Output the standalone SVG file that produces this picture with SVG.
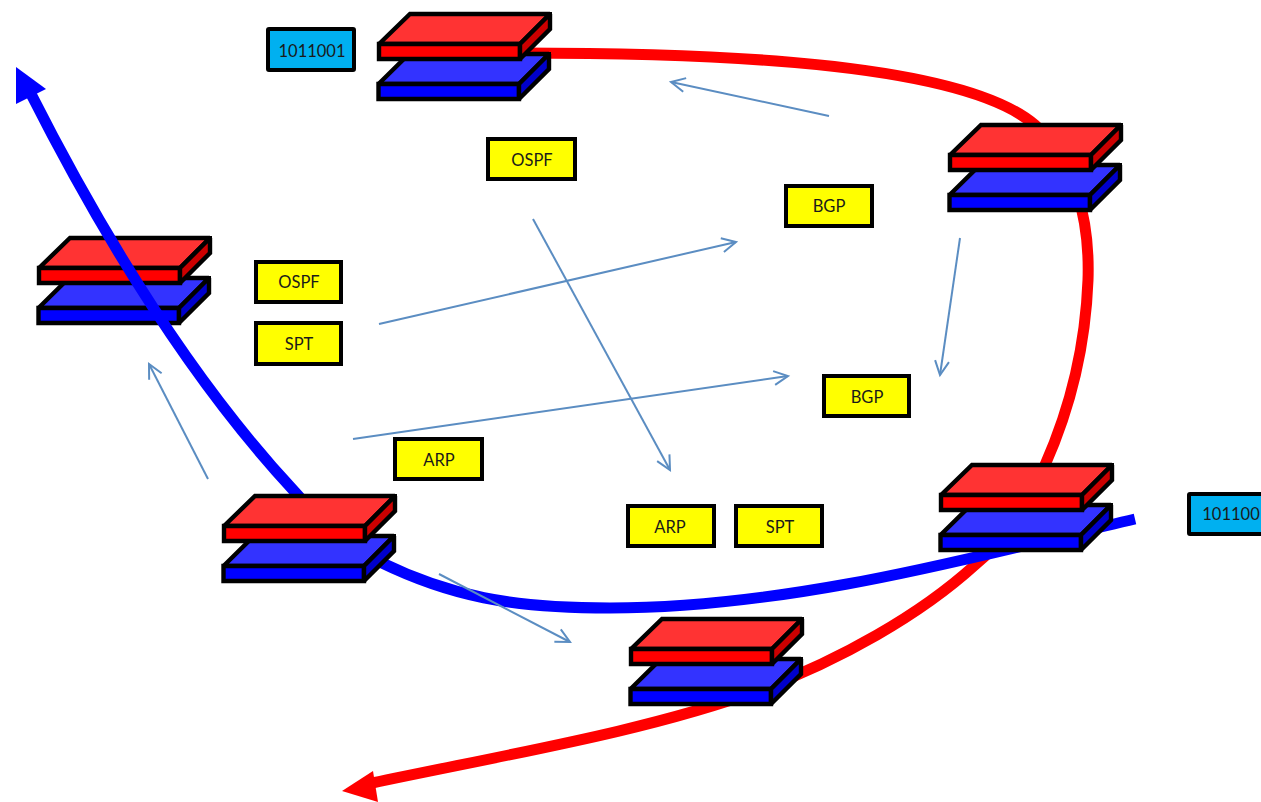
<svg xmlns="http://www.w3.org/2000/svg" xmlns:xlink="http://www.w3.org/1999/xlink" width="1261" height="802" viewBox="0 0 1261 802">
<style>
text{font-family:"Lato","Open Sans","Liberation Sans",sans-serif;font-size:16.5px;text-anchor:middle;fill:#1a1a1a}
.b{fill:#ffff00;stroke:#000;stroke-width:4}
.c{fill:#00b0f0;stroke:#000;stroke-width:4}
.s{fill:none;stroke:#5b8dc2;stroke-width:2}
.k{stroke:#000;stroke-width:4.4;stroke-linejoin:miter;stroke-miterlimit:1.5}
.thick{fill:none;stroke-width:11}
</style>
<defs>
<g id="router">
<path class="k" fill="#3333ff" d="M-.5 40L30 10H170L140 40Z"/>
<path class="k" fill="#0000ff" d="M-.5 40H140V55H-.5Z"/>
<path class="k" fill="#0000cc" d="M140 40L170 10V25L140 55Z"/>
<rect x="168.5" y="8" width="3.5" height="4"/>
<path class="k" fill="#ff3333" d="M0 0L31 -30H171L141 0Z"/>
<path class="k" fill="#ff0000" d="M0 0H141V15H0Z"/>
<path class="k" fill="#cc0000" d="M141 0L171 -30V-15L141 15Z"/>
<rect x="169" y="-32" width="4" height="4"/>
</g>
<marker id="open" markerUnits="userSpaceOnUse" markerWidth="20" markerHeight="20" refX="15" refY="8" orient="auto" viewBox="0 0 20 16"><path d="M1 1L15 8L1 15" fill="none" stroke="#5b8dc2" stroke-width="2"/></marker>
</defs>
<g id="connector-red">
<path class="thick" stroke="#ff0000" d="M520 53C700 53 960 60 1035 125C1075 160 1090 220 1088 280C1085 360 1065 420 1045 465C1025 510 1000 545 975 565C920 615 840 660 760 690C650 730 520 752 372 783"/>
<path fill="#ff0000" d="M342 791L373 771L378 802Z"/>
</g>
<g id="router-left"><use xlink:href="#router" href="#router" x="39" y="268"/></g>
<g id="connector-blue">
<path class="thick" stroke="#0000ff" d="M1135 519C1000 550 800 608 610 608C510 608 450 596 380 562C340 542 320 520 295 492C200 390 110 250 30 92"/>
<path fill="#0000ff" d="M16 67L46 89L16 104Z"/>
</g>
<g id="router-top"><use xlink:href="#router" href="#router" x="379" y="44"/></g>
<g id="router-right"><use xlink:href="#router" href="#router" x="950" y="155"/></g>
<g id="router-right-lower"><use xlink:href="#router" href="#router" x="941" y="495"/></g>
<g id="router-bottom"><use xlink:href="#router" href="#router" x="631" y="649"/></g>
<g id="router-bottom-left"><use xlink:href="#router" href="#router" x="224" y="526"/></g>
<g id="connectors">
<path class="s" marker-end="url(#open)" d="M829 116L671 82"/>
<path class="s" marker-end="url(#open)" d="M960 238L940 375"/>
<path class="s" marker-end="url(#open)" d="M533 219L670 470"/>
<path class="s" marker-end="url(#open)" d="M379 324L736 242"/>
<path class="s" marker-end="url(#open)" d="M353 439L788 376"/>
<path class="s" marker-end="url(#open)" d="M208 479L149 364"/>
<path class="s" marker-end="url(#open)" d="M439 574L570 642"/>
</g>
<g id="n-1011001"><rect class="c" x="268" y="29" width="86" height="41" rx="1"/><text x="312" y="57">1011001</text></g>
<g id="n-101100"><rect class="c" x="1189" y="494" width="86" height="40" rx="1"/><text x="1231" y="520">101100</text></g>
<g id="n-ospf1"><rect class="b" x="488" y="139" width="87" height="40"/><text x="532" y="166">OSPF</text></g>
<g id="n-bgp1"><rect class="b" x="786" y="186" width="86" height="40"/><text x="829" y="212">BGP</text></g>
<g id="n-ospf2"><rect class="b" x="256" y="262" width="85" height="40"/><text x="299" y="288">OSPF</text></g>
<g id="n-spt1"><rect class="b" x="256" y="323" width="85" height="41"/><text x="299" y="350">SPT</text></g>
<g id="n-bgp2"><rect class="b" x="824" y="376" width="85" height="40"/><text x="867" y="403">BGP</text></g>
<g id="n-arp1"><rect class="b" x="395" y="439" width="87" height="40"/><text x="439" y="466">ARP</text></g>
<g id="n-arp2"><rect class="b" x="628" y="506" width="86" height="40"/><text x="670" y="533">ARP</text></g>
<g id="n-spt2"><rect class="b" x="736" y="506" width="86" height="40"/><text x="780" y="533">SPT</text></g>
</svg>
